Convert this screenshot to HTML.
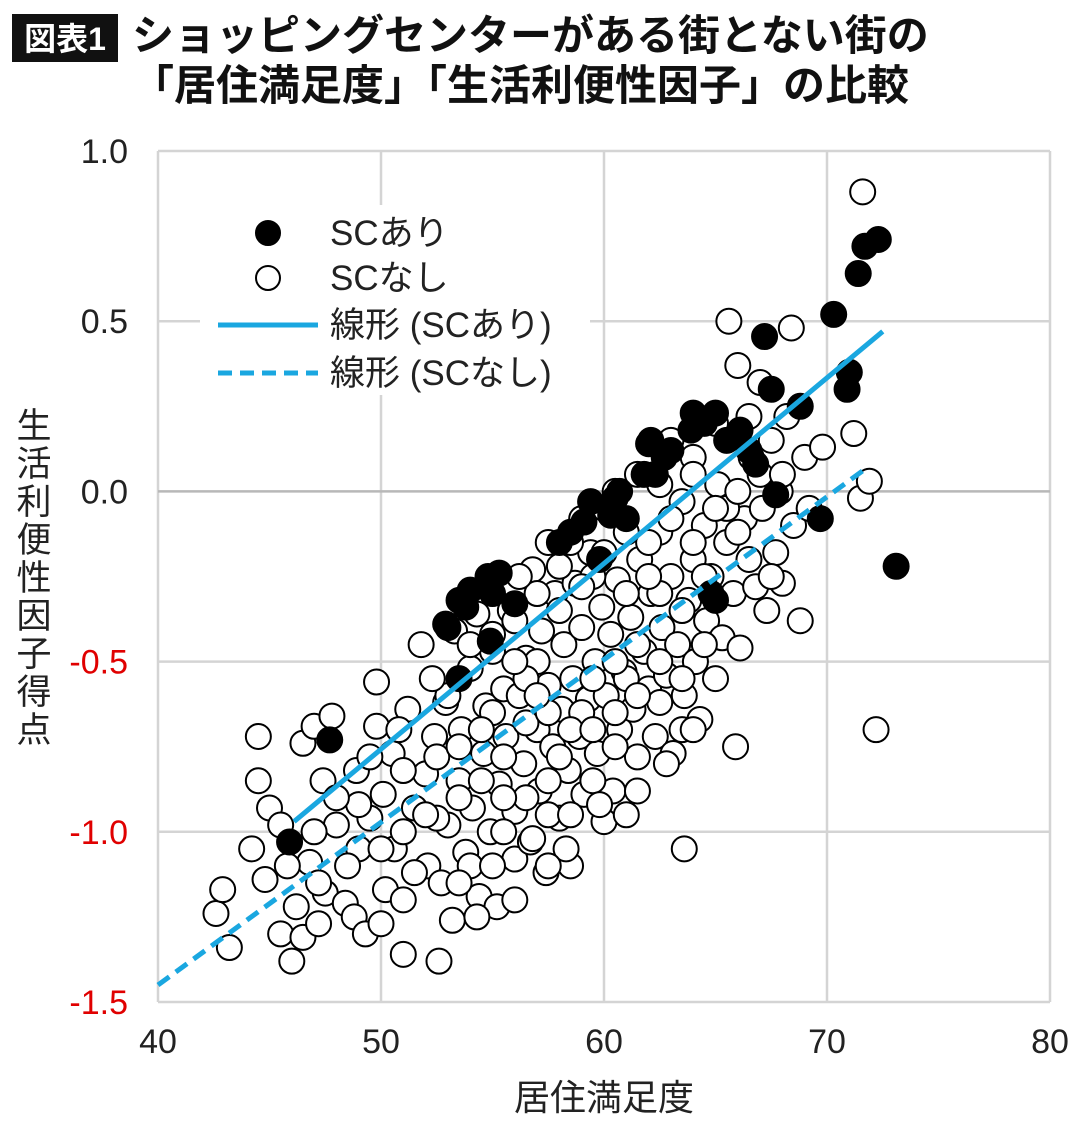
<!DOCTYPE html>
<html><head><meta charset="utf-8"><style>
body{margin:0;background:#fff;}
svg text{font-family:"Liberation Sans","Noto Sans CJK JP",sans-serif;}
</style></head><body>
<svg id="chart" width="1080" height="1121" viewBox="0 0 1080 1121" xmlns="http://www.w3.org/2000/svg">
<rect x="12" y="14" width="106" height="48" fill="#111"/>
<text x="65" y="50" font-size="32" font-weight="bold" fill="#fff" text-anchor="middle">図表1</text>
<text x="132" y="50" font-size="42" font-weight="bold" fill="#111">ショッピングセンターがある街とない街の</text>
<text x="132" y="100" font-size="42" font-weight="bold" fill="#111">「居住満足度」「生活利便性因子」の比較</text>
<g id="grid"></g>
<g id="ticks"></g>
<g id="marks"></g>
<text x="604" y="1110" font-size="36" fill="#222" text-anchor="middle">居住満足度</text>
<text font-size="35" fill="#222" text-anchor="middle"><tspan x="34" y="438">生</tspan><tspan x="34" y="476">活</tspan><tspan x="34" y="514">利</tspan><tspan x="34" y="552">便</tspan><tspan x="34" y="590">性</tspan><tspan x="34" y="628">因</tspan><tspan x="34" y="666">子</tspan><tspan x="34" y="704">得</tspan><tspan x="34" y="742">点</tspan></text>
<g id="legend">
<rect x="200" y="205" width="390" height="190" fill="#fff"/>
<circle cx="268" cy="233" r="12" fill="#000" stroke="#000" stroke-width="2"/>
<text x="330" y="245" font-size="35" fill="#222">SCあり</text>
<circle cx="268" cy="278" r="12" fill="#fff" stroke="#000" stroke-width="2"/>
<text x="330" y="290" font-size="35" fill="#222">SCなし</text>
<line x1="218" y1="325" x2="318" y2="325" stroke="#1aa7e0" stroke-width="5"/>
<text x="330" y="337" font-size="35" fill="#222">線形 (SCあり)</text>
<line x1="218" y1="373" x2="318" y2="373" stroke="#1aa7e0" stroke-width="5" stroke-dasharray="14,8"/>
<text x="330" y="385" font-size="35" fill="#222">線形 (SCなし)</text>
</g>
</svg>
<script>
const xTicks=[40,50,60,70,80];
const yTicks=[1.0,0.5,0.0,-0.5,-1.0,-1.5];
const yTickLabels=["1.0","0.5","0.0","-0.5","-1.0","-1.5"];
const ariX=[72.3,71.7,71.4,70.3,67.2,71,70.9,68.8,64,65,66.1,62.1,62.7,61.8,60.7,59.4,59.1,60.3,58,67.7,69.7,73.1,55.3,54,53.5,52.9,54.9,53.5,47.7,45.9,65,59.8,63.9,61,62.3,63,64.5,65.5,66.5,60.5,58.5,55,56,53.8,54.8,53,64.8,62,67.5,66.8];
const ariY=[0.74,0.72,0.64,0.52,0.455,0.35,0.3,0.25,0.23,0.23,0.18,0.15,0.1,0.05,0,-0.03,-0.09,-0.07,-0.15,-0.01,-0.08,-0.22,-0.24,-0.29,-0.32,-0.39,-0.44,-0.55,-0.73,-1.03,-0.32,-0.2,0.18,-0.08,0.05,0.12,0.2,0.15,0.12,-0.02,-0.12,-0.3,-0.33,-0.34,-0.25,-0.4,-0.3,0.14,0.3,0.08];
const nashiX=[42.6,42.9,43.2,44.5,44.5,44.2,45,44.8,45.5,46,46.5,46.2,46.5,47,47.4,47.8,46.8,47.5,47.2,48,48.4,48.8,49.3,48.9,49.5,49.8,49.8,50,50.2,50.1,50.5,50.6,51,51.2,51,51.5,51.8,52,52.1,52.4,52.6,52.7,52.9,53,53.2,53.3,53.5,53.6,53.8,54,54.1,54.3,54.4,54.6,54.7,54.9,55,55.2,55.3,55.5,55.6,55.8,56,56,56.2,56.4,56.5,56.7,56.8,57,57.1,57.2,57.4,57.5,57.7,57.8,58,58.1,58.2,58.4,58.5,58.6,58.7,58.9,59,59.1,59.3,59.4,59.6,59.7,59.9,60,60.1,60.3,60.4,60.6,60.7,60.9,61,61.2,61.3,61.5,61.6,61.8,62,62.1,62.3,62.5,62.6,62.8,63,63.1,63.3,63.5,63.6,63.6,63.8,64,64.1,64.3,64.5,64.6,64.8,65,65.1,65.3,65.5,65.6,65.8,65.9,66,66.1,66.3,66.5,66.6,66.8,67,67.1,67.3,67.5,67.7,67.9,68,68.2,68.4,68.5,68.8,69,69.2,69.8,71.2,71.6,71.5,71.9,72.2,53,55,57,58,59.5,61,62,63,64,60,61.5,65,66.5,45.5,47,49,51,52.5,54,55.5,56.5,58,59,60.5,61,62.5,63.5,64.5,57.5,59.5,56,58.5,
52.5,53.5,54.5,55.5,56.5,57.5,58.5,59.5,60.5,61.5,62.5,63.5,64.5,65.5,53.5,54.5,55.5,56.5,57.5,58.5,59.5,60.5,61.5,62.5,63.5,57,58,59,60,61,62,63,64,65,66,55,56,57,52,51,50,49,48,51.5,53.5,55,56.8,58.3,59.8,61.5,62.8,64,54,56.2,57.5,59,60.5,62.5,64,66,67,68,67.5,52.3,50.8,49.5,48.5,47.2,45.8,54.3,56,57.5];
const nashiY=[-1.24,-1.17,-1.34,-0.72,-0.85,-1.05,-0.93,-1.14,-1.3,-1.38,-1.31,-1.22,-0.74,-0.69,-0.85,-0.66,-1.09,-1.18,-1.27,-0.98,-1.21,-1.25,-1.3,-0.82,-0.96,-0.56,-0.69,-1.27,-1.17,-0.89,-0.77,-1.05,-1.36,-0.64,-1.2,-0.93,-0.45,-0.83,-1.1,-0.72,-1.38,-1.15,-0.62,-0.98,-1.26,-0.41,-0.85,-0.7,-1.06,-0.52,-0.93,-0.36,-1.19,-0.77,-0.63,-1.0,-0.47,-1.22,-0.86,-0.58,-0.72,-0.35,-1.08,-0.94,-0.6,-0.8,-0.49,-1.03,-0.23,-0.7,-0.88,-0.41,-1.12,-0.57,-0.75,-0.3,-0.96,-0.64,-0.45,-0.82,-1.1,-0.55,-0.27,-0.72,-0.4,-0.89,-0.61,-0.18,-0.5,-0.77,-0.34,-0.97,-0.6,-0.42,-0.88,-0.26,-0.7,-0.53,-0.95,-0.37,-0.64,-0.78,-0.2,-0.47,-0.58,-0.3,-0.72,-0.12,-0.4,-0.54,-0.25,-0.77,-0.45,-0.03,-0.6,-1.05,-0.32,-0.2,-0.5,-0.67,-0.1,-0.38,-0.25,-0.55,0.02,-0.43,-0.15,0.5,-0.3,-0.75,0.37,-0.46,-0.08,-0.2,0.1,-0.28,0.32,-0.05,-0.35,0.15,-0.18,0.0,-0.27,0.22,0.48,-0.1,-0.38,0.1,-0.05,0.13,0.17,0.88,-0.02,0.03,-0.7,-0.6,-0.65,-0.5,-0.35,-0.25,-0.3,-0.15,0.15,0.1,-0.05,0.05,0.2,0.22,-0.98,-1.0,-1.05,-0.82,-0.96,-1.1,-1.0,-0.68,-0.78,-0.65,-0.75,-0.55,-0.62,-0.7,-0.45,-0.95,-0.85,-0.38,-0.15,
-0.78,-0.9,-0.7,-0.78,-0.9,-0.65,-0.7,-0.55,-0.5,-0.45,-0.5,-0.35,-0.25,-0.05,-0.75,-0.85,-0.9,-0.55,-0.85,-0.95,-0.7,-0.65,-0.6,-0.3,-0.55,-0.3,-0.22,-0.28,-0.18,-0.12,-0.25,-0.08,-0.15,-0.05,-0.12,-0.42,-0.5,-0.6,-0.95,-1.0,-1.05,-0.92,-0.9,-1.12,-1.15,-1.1,-1.02,-1.05,-0.92,-0.88,-0.8,-0.7,-0.45,-0.25,-0.15,-0.08,0.0,0.02,0.05,0.0,0.05,0.05,-0.25,-0.55,-0.7,-0.78,-1.1,-1.15,-1.1,-1.25,-1.2,-1.1];
const trendAriX=[46.1,72.5];
const trendAriY=[-0.97,0.47];
const trendNashiX=[40,71.8];
const trendNashiY=[-1.45,0.07];

const X0=158,X1=1050,Y0=151,Y1=1002;
const sx=v=>X0+(v-40)/40*(X1-X0);
const sy=v=>Y0+(1.0-v)/2.5*(Y1-Y0);
const NS="http://www.w3.org/2000/svg";
function mk(tag,attrs,parent){const e=document.createElementNS(NS,tag);for(const k in attrs)e.setAttribute(k,attrs[k]);parent.appendChild(e);return e;}
const grid=document.getElementById('grid'),ticks=document.getElementById('ticks'),marks=document.getElementById('marks');
xTicks.forEach((t,i)=>{
 const l=mk('line',{x1:sx(t),x2:sx(t),y1:Y0,y2:Y1,stroke:'#d4d4d4','stroke-width':2.5},grid);
 
 
 const tx=mk('text',{x:sx(t),y:1053,'font-size':34,fill:'#222','text-anchor':'middle'},ticks);
 tx.textContent=t;
 
 
});
yTicks.forEach((t,i)=>{
 const l=mk('line',{x1:X0,x2:X1,y1:sy(t),y2:sy(t),stroke:t===0?'#b8b8b8':'#d4d4d4','stroke-width':2.5},grid);
 
 
 const tx=mk('text',{x:128,y:sy(t)+12,'font-size':34,fill:t<0?'#e00000':'#222','text-anchor':'end'},ticks);
 tx.textContent=yTickLabels[i];
 
 
});
nashiX.forEach((x,i)=>{
 const c=mk('circle',{cx:sx(x),cy:sy(nashiY[i]),r:12.5,fill:'#fff',stroke:'#000','stroke-width':2},marks);
 
 
});
ariX.forEach((x,i)=>{
 const c=mk('circle',{cx:sx(x),cy:sy(ariY[i]),r:12.5,fill:'#000',stroke:'#000','stroke-width':2},marks);
 
 
});
const la=mk('line',{x1:sx(trendAriX[0]),y1:sy(trendAriY[0]),x2:sx(trendAriX[1]),y2:sy(trendAriY[1]),stroke:'#1aa7e0','stroke-width':5},marks);


const ln=mk('line',{x1:sx(trendNashiX[0]),y1:sy(trendNashiY[0]),x2:sx(trendNashiX[1]),y2:sy(trendNashiY[1]),stroke:'#1aa7e0','stroke-width':5,'stroke-dasharray':'14,8'},marks);


</script>
</body></html>
